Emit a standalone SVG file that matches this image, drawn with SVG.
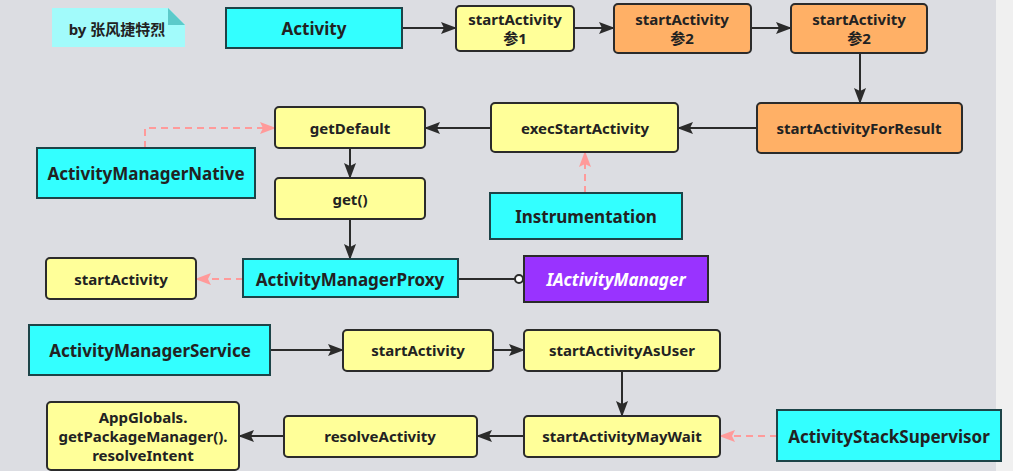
<svg xmlns="http://www.w3.org/2000/svg" width="1013" height="471" viewBox="0 0 1013 471">
<style>
.n{stroke:#2b2b2b;stroke-width:2}
.y{fill:#ffff99}
.o{fill:#ffb066}
.c{fill:#33ffff;stroke:#1d4448}
.p{fill:#9933ff;stroke:#2b2b2b}
text{font-family:"Noto Sans","Noto Sans CJK SC",sans-serif;font-weight:bold;font-size:15px;fill:#222;text-anchor:middle;dominant-baseline:central}
.big{font-size:17px}
.e{stroke:#2b2b2b;stroke-width:2;fill:none;marker-end:url(#a)}
.d{stroke:#ff9a9a;stroke-width:2;fill:none;stroke-dasharray:7 5;marker-end:url(#pa)}
</style>
<defs>
<marker id="a" viewBox="0 0 16 12" refX="15" refY="6" markerWidth="16" markerHeight="12" markerUnits="userSpaceOnUse" orient="auto"><path d="M0,0 L16,6 L0,12 L3,6 Z" fill="#2b2b2b"/></marker>
<marker id="pa" viewBox="0 0 16 12" refX="15" refY="6" markerWidth="16" markerHeight="12" markerUnits="userSpaceOnUse" orient="auto"><path d="M0,0 L16,6 L0,12 L3,6 Z" fill="#ff9a9a"/></marker>
</defs>
<rect width="1013" height="471" fill="#dcdde2"/>
<rect x="996" width="17" height="471" fill="#f0f0f0"/>
<g id="note">
<path d="M52,8 H168 L185,25 V47 H52 Z" fill="#a2fbfb"/>
<path d="M168,8 L185,25 H168 Z" fill="#5ccaca"/>
<text x="117" y="29">by 张风捷特烈</text>
</g>
<g id="connectors">
<path class="e" d="M402,28 H456"/>
<path class="e" d="M574,28 H614"/>
<path class="e" d="M751,28 H791"/>
<path class="e" d="M860,53 V103"/>
<path class="e" d="M757,128 H678"/>
<path class="e" d="M491,128 H425"/>
<path class="d" d="M145,148 V128 H275"/>
<path class="e" d="M350,148 V178"/>
<path class="e" d="M350,219 V259"/>
<path class="d" d="M585,193 V152"/>
<path class="d" d="M243,279 H196"/>
<path d="M458,279 H515" stroke="#2b2b2b" stroke-width="2"/>
<circle cx="519" cy="279" r="4" fill="#fff" stroke="#2b2b2b" stroke-width="2"/>
<path class="e" d="M270,350 H343"/>
<path class="e" d="M493,350 H524"/>
<path class="e" d="M622,371 V416"/>
<path class="e" d="M524,436 H477"/>
<path class="e" d="M284,436 H239"/>
<path class="d" d="M777,436 H720"/>
</g>
<g id="activity"><rect class="n c" x="226" y="8" width="176" height="40"/><text class="big" x="314" y="28">Activity</text></g>
<g id="startActivity1"><rect class="n y" x="456" y="6" width="118" height="45" rx="4"/><text x="515" y="19">startActivity</text><text x="515" y="38">参1</text></g>
<g id="startActivity2a"><rect class="n o" x="614" y="4" width="137" height="49" rx="4"/><text x="682" y="19">startActivity</text><text x="682" y="38">参2</text></g>
<g id="startActivity2b"><rect class="n o" x="791" y="4" width="136" height="49" rx="4"/><text x="859" y="19">startActivity</text><text x="859" y="38">参2</text></g>
<g id="startActivityForResult"><rect class="n o" x="757" y="103" width="205" height="50" rx="4"/><text x="859" y="128">startActivityForResult</text></g>
<g id="execStartActivity"><rect class="n y" x="491" y="103" width="187" height="49" rx="4"/><text x="585" y="128">execStartActivity</text></g>
<g id="getDefault"><rect class="n y" x="275" y="107" width="150" height="41" rx="4"/><text x="350" y="128">getDefault</text></g>
<g id="activityManagerNative"><rect class="n c" x="37" y="148" width="218" height="50"/><text class="big" x="146" y="173">ActivityManagerNative</text></g>
<g id="get"><rect class="n y" x="275" y="178" width="150" height="41" rx="4"/><text x="350" y="199">get()</text></g>
<g id="instrumentation"><rect class="n c" x="490" y="193" width="192" height="46"/><text class="big" x="586" y="216">Instrumentation</text></g>
<g id="startActivityLeft"><rect class="n y" x="46" y="258" width="150" height="41" rx="4"/><text x="121" y="279">startActivity</text></g>
<g id="activityManagerProxy"><rect class="n c" x="243" y="259" width="215" height="38"/><text class="big" x="350" y="279">ActivityManagerProxy</text></g>
<g id="iActivityManager"><rect class="n p" x="524" y="256" width="184" height="46"/><text class="big" x="616" y="279" style="fill:#fff;font-style:italic">IActivityManager</text></g>
<g id="activityManagerService"><rect class="n c" x="29" y="325" width="241" height="50"/><text class="big" x="150" y="350">ActivityManagerService</text></g>
<g id="startActivityAMS"><rect class="n y" x="343" y="330" width="150" height="41" rx="4"/><text x="418" y="350">startActivity</text></g>
<g id="startActivityAsUser"><rect class="n y" x="524" y="330" width="196" height="41" rx="4"/><text x="622" y="350">startActivityAsUser</text></g>
<g id="appGlobals"><rect class="n y" x="47" y="402" width="192" height="68" rx="4"/><text x="143" y="417">AppGlobals.</text><text x="143" y="436">getPackageManager().</text><text x="143" y="455">resolveIntent</text></g>
<g id="resolveActivity"><rect class="n y" x="284" y="416" width="193" height="41" rx="4"/><text x="380" y="436">resolveActivity</text></g>
<g id="startActivityMayWait"><rect class="n y" x="524" y="416" width="196" height="41" rx="4"/><text x="622" y="436">startActivityMayWait</text></g>
<g id="activityStackSupervisor"><rect class="n c" x="777" y="410" width="224" height="51"/><text class="big" x="889" y="436">ActivityStackSupervisor</text></g>
</svg>
